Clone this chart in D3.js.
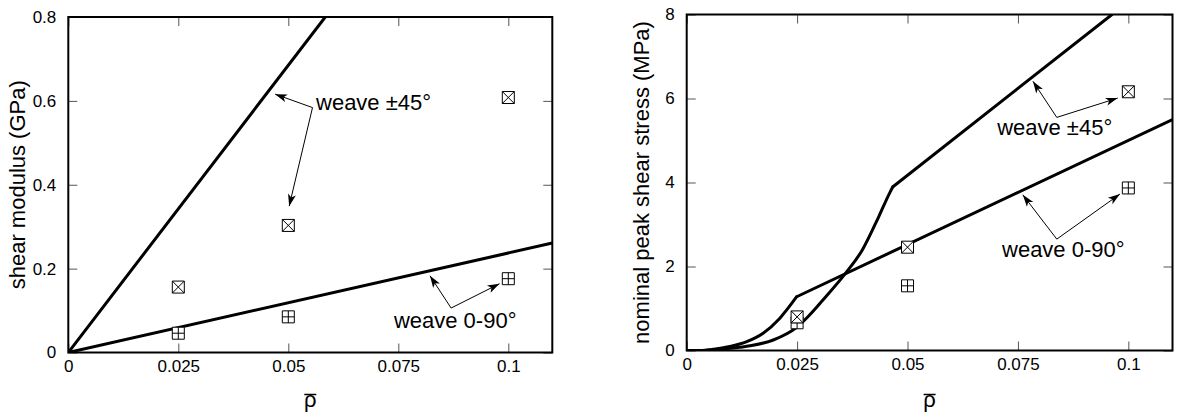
<!DOCTYPE html>
<html><head><meta charset="utf-8">
<script src="https://cdn.jsdelivr.net/npm/d3@7"></script>
<style>
html,body{margin:0;padding:0;background:#fff;}
svg{display:block;font-family:"Liberation Sans",Arial,sans-serif;}
</style></head>
<body>
<svg id="chart" width="1179" height="415"></svg>
<script>
// ---------- data ----------
const xTicks = [0, 0.025, 0.05, 0.075, 0.1];
const xTickLabels = ["0", "0.025", "0.05", "0.075", "0.1"];
const modYTicks = [0, 0.2, 0.4, 0.6, 0.8];
const modYTickLabels = ["0", "0.2", "0.4", "0.6", "0.8"];
const strYTicks = [0, 2, 4, 6, 8];
const strYTickLabels = ["0", "2", "4", "6", "8"];

const rhoSamples = [0.025, 0.05, 0.1];
const modulus45 = [0.156, 0.303, 0.608];
const modulus090 = [0.046, 0.085, 0.176];
const modulusFit45 = [[0, 0], [0.0584, 0.8]];
const modulusFit090 = [[0, 0], [0.11, 0.261]];

const stress45 = [0.80, 2.46, 6.16];
const stress090 = [0.66, 1.54, 3.87];
// model curves: smooth rising part, then straight tail after the kink
const stressModel45Curve = [[0, 0], [0.004, 0], [0.006, 0.02], [0.0136, 0.10], [0.0196, 0.25], [0.0249, 0.55],
  [0.0275, 0.81], [0.0309, 1.21], [0.0359, 1.83], [0.0398, 2.40], [0.0435, 3.19], [0.046, 3.76],
  [0.0467, 3.90]];
const stressModel45Tail = [[0.0467, 3.90], [0.0963, 8.0]];
const stressModel090Curve = [[0, 0], [0.0035, 0], [0.006, 0.03], [0.0098, 0.095], [0.0136, 0.21],
  [0.0173, 0.41], [0.0211, 0.77], [0.0249, 1.28]];
const stressModel090Tail = [[0.0249, 1.28], [0.11, 5.5]];

// annotations: text anchor [rho, value], vertex, arrow tips
const modAnnot = [
  {label: "weave \u00b145\u00b0", text: [0.0563, 0.578], vertex: [0.0555, 0.584], tips: [[0.047, 0.616], [0.0502, 0.349]]},
  {label: "weave 0-90\u00b0", text: [0.074, 0.0588], vertex: [0.087, 0.106], tips: [[0.0822, 0.183], [0.098, 0.164]]}
];
const strAnnot = [
  {label: "weave \u00b145\u00b0", text: [0.0703, 5.136], vertex: [0.0838, 5.55], tips: [[0.0784, 6.41], [0.0976, 6.01]]},
  {label: "weave 0-90\u00b0", text: [0.0714, 2.224], vertex: [0.0838, 2.652], tips: [[0.0761, 3.707], [0.0981, 3.724]]}
];

// ---------- drawing ----------
const svg = d3.select("#chart");
svg.append("defs").append("marker")
  .attr("id", "arrow").attr("markerUnits", "userSpaceOnUse")
  .attr("viewBox", "-13 -5 14 10").attr("refX", 0).attr("refY", 0)
  .attr("markerWidth", 14).attr("markerHeight", 10).attr("orient", "auto")
  .append("path").attr("d", "M0,0 L-12,-4 L-9,0 L-12,4 Z").attr("fill", "#000");

function boxPath(kind) {
  const h = 6;
  let d = `M${-h},${-h}H${h}V${h}H${-h}Z`;
  if (kind === "x") d += `M${-h},${-h}L${h},${h}M${h},${-h}L${-h},${h}`;
  else d += `M0,${-h}V${h}M${-h},0H${h}`;
  return d;
}

function panel(cfg) {
  const x = d3.scaleLinear().domain([0, 0.11]).range([cfg.left, cfg.right]);
  const y = d3.scaleLinear().domain(cfg.yDomain).range([cfg.bottom, cfg.top]);
  const g = svg.append("g");
  const tickStyle = sel => {
    sel.select(".domain").remove();
    sel.selectAll(".tick line").attr("stroke", "#555").attr("stroke-width", 1);
  };
  g.append("g").attr("transform", `translate(0,${cfg.bottom})`)
    .call(d3.axisBottom(x).tickValues(xTicks).tickSizeInner(-9).tickSizeOuter(0).tickPadding(7)
      .tickFormat((d, i) => xTickLabels[i]))
    .call(tickStyle)
    .selectAll("text").attr("font-size", 17).attr("fill", "#000").attr("font-family", "Liberation Sans, Arial, sans-serif");
  g.append("g").attr("transform", `translate(0,${cfg.top})`)
    .call(d3.axisTop(x).tickValues(xTicks).tickSizeInner(-9).tickSizeOuter(0).tickFormat(""))
    .call(tickStyle);
  g.append("g").attr("transform", `translate(${cfg.left},0)`)
    .call(d3.axisLeft(y).tickValues(cfg.yTicks).tickSizeInner(-9).tickSizeOuter(0).tickPadding(12)
      .tickFormat((d, i) => cfg.yLabels[i]))
    .call(tickStyle)
    .selectAll("text").attr("font-size", 17).attr("fill", "#000").attr("font-family", "Liberation Sans, Arial, sans-serif");
  g.append("g").attr("transform", `translate(${cfg.right},0)`)
    .call(d3.axisRight(y).tickValues(cfg.yTicks).tickSizeInner(-9).tickSizeOuter(0).tickFormat(""))
    .call(tickStyle);

  // curves
  const clipId = "clip" + cfg.id;
  svg.select("defs").append("clipPath").attr("id", clipId)
    .append("rect").attr("x", cfg.left).attr("y", cfg.top)
    .attr("width", cfg.right - cfg.left).attr("height", cfg.bottom - cfg.top);
  const cg = g.append("g").attr("clip-path", `url(#${clipId})`);
  cfg.models.forEach(m => {
    const line = d3.line().x(d => x(d[0])).y(d => y(d[1])).curve(m.curve);
    cg.append("path").datum(m.pts)
      .attr("d", line).attr("fill", "none").attr("stroke", "#000")
      .attr("stroke-width", 3).attr("stroke-linejoin", "round").attr("stroke-linecap", "round");
  });

  // frame
  g.append("rect").attr("x", cfg.left).attr("y", cfg.top)
    .attr("width", cfg.right - cfg.left).attr("height", cfg.bottom - cfg.top)
    .attr("fill", "none").attr("stroke", "#000").attr("stroke-width", 2);

  // markers
  const pts = [];
  rhoSamples.forEach((r, i) => pts.push({r, v: cfg.s090[i], k: "+"}));
  rhoSamples.forEach((r, i) => pts.push({r, v: cfg.s45[i], k: "x"}));
  g.selectAll("path.mk").data(pts).join("path")
    .attr("transform", d => `translate(${x(d.r)},${y(d.v)})`)
    .attr("d", d => boxPath(d.k)).attr("fill", "#fff").attr("stroke", "#000").attr("stroke-width", 1);

  // annotations
  cfg.annot.forEach(a => {
    a.tips.forEach(t => {
      g.append("line")
        .attr("x1", x(a.vertex[0])).attr("y1", y(a.vertex[1]))
        .attr("x2", x(t[0])).attr("y2", y(t[1]))
        .attr("stroke", "#000").attr("stroke-width", 1).attr("marker-end", "url(#arrow)");
    });
    g.append("text").attr("x", x(a.text[0])).attr("y", y(a.text[1]))
      .attr("font-size", 22).text(a.label);
  });

  // axis titles
  const cx = (cfg.left + cfg.right) / 2;
  g.append("text").attr("x", cx).attr("y", 407).attr("text-anchor", "middle")
    .attr("font-size", 22).text("\u03c1");
  g.append("line").attr("x1", cx - 6).attr("x2", cx + 6).attr("y1", 394.5).attr("y2", 394.5)
    .attr("stroke", "#000").attr("stroke-width", 1.5);
  g.append("text").attr("transform", `translate(${cfg.titleX},${(cfg.top + cfg.bottom) / 2}) rotate(-90)`)
    .attr("text-anchor", "middle").attr("font-size", 22).text(cfg.title);
}

panel({id: "a", left: 68.3, right: 552.3, top: 17, bottom: 352.5, yDomain: [0, 0.8],
  yTicks: modYTicks, yLabels: modYTickLabels,
  models: [{pts: modulusFit45, curve: d3.curveLinear}, {pts: modulusFit090, curve: d3.curveLinear}],
  s45: modulus45, s090: modulus090, annot: modAnnot,
  title: "shear modulus (GPa)", titleX: 25});
panel({id: "b", left: 686.7, right: 1172.5, top: 14.5, bottom: 350.5, yDomain: [0, 8],
  yTicks: strYTicks, yLabels: strYTickLabels,
  models: [{pts: stressModel45Curve, curve: d3.curveMonotoneX}, {pts: stressModel45Tail, curve: d3.curveLinear},
           {pts: stressModel090Curve, curve: d3.curveMonotoneX}, {pts: stressModel090Tail, curve: d3.curveLinear}],
  s45: stress45, s090: stress090, annot: strAnnot,
  title: "nominal peak shear stress (MPa)", titleX: 649});
</script>
</body></html>
